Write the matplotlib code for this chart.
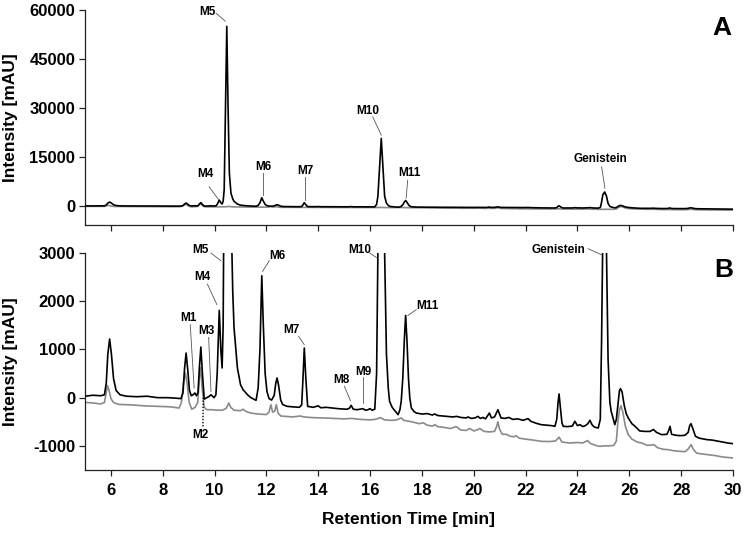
import matplotlib
matplotlib.use("Agg")
import matplotlib.pyplot as plt

plt.rcParams['font.family'] = ['Liberation Sans', 'DejaVu Sans']
plt.rcParams['font.weight'] = 'bold'
plt.rcParams['axes.unicode_minus'] = False

# ---- data: sample trace (black) ----
black_t = [5.0, 5.3, 5.6, 5.75, 5.82, 5.88, 5.95, 6.02, 6.1, 6.2, 6.35, 6.6, 7.0, 7.4, 7.8, 8.2, 8.5, 8.7,
           8.78, 8.84, 8.9, 8.96, 9.03, 9.1, 9.17, 9.24, 9.3, 9.36, 9.41, 9.47, 9.53, 9.6, 9.7, 9.8, 9.86,
           9.92, 9.98, 10.05, 10.1, 10.18, 10.24, 10.29, 10.33, 10.37, 10.42, 10.47, 10.52, 10.57, 10.63,
           10.7, 10.75, 10.88, 11.0, 11.1, 11.14, 11.27, 11.4, 11.6, 11.68, 11.75, 11.82, 11.88, 11.95,
           12.02, 12.1, 12.2, 12.3, 12.36, 12.41, 12.47, 12.55, 12.63, 12.8, 13.0, 13.27, 13.36, 13.41,
           13.46, 13.52, 13.59, 13.8, 14.0, 14.1, 14.3, 14.56, 14.8, 15.1, 15.2, 15.27, 15.35, 15.5, 15.6,
           15.72, 15.82, 15.92, 15.99, 16.08, 16.18, 16.25, 16.3, 16.35, 16.43, 16.5, 16.56, 16.63, 16.7,
           16.75, 16.85, 16.94, 17.08, 17.15, 17.2, 17.26, 17.32, 17.37, 17.42, 17.48, 17.53, 17.59, 17.7,
           17.78, 18.0, 18.2, 18.4, 18.49, 18.6, 18.8, 19.0, 19.2, 19.33, 19.5, 19.7, 19.78, 19.9, 20.05,
           20.16, 20.25, 20.35, 20.45, 20.6, 20.68, 20.8, 20.93, 21.05, 21.2, 21.35, 21.5, 21.7, 21.9,
           22.09, 22.2, 22.4, 22.6, 22.8, 23.0, 23.13, 23.2, 23.25, 23.29, 23.33, 23.4, 23.45, 23.6, 23.8,
           23.9, 24.0, 24.1, 24.2, 24.3, 24.4, 24.48, 24.56, 24.65, 24.8, 24.88, 24.93, 24.98, 25.05,
           25.12, 25.18, 25.25, 25.3, 25.44, 25.5, 25.56, 25.62, 25.66, 25.72, 25.8, 25.88, 25.96, 26.1,
           26.22, 26.4, 26.6, 26.8, 26.93, 27.05, 27.25, 27.45, 27.52, 27.57, 27.63, 27.8, 27.96, 28.15,
           28.27, 28.33, 28.38, 28.45, 28.55, 28.7, 28.99, 29.2, 29.4, 29.6, 29.8, 30.0]
black_v = [30, 50, 40, 60, 300, 900, 1217, 900, 400, 150, 60, 30, 20, 30, 0, 0, -10, -20,
           100, 600, 925, 600, 150, 40, 60, 97, 40, 100, 600, 1050, 500, -30, 0, 30, 60,
           30, 0, 60, 500, 1810, 1000, 615, 1500, 5000, 30000, 55000, 30000, 10000, 4000,
           2200, 1450, 615, 270, 160, 140, 60, 0, -55, 200, 1000, 2529, 1500, 500,
           130, -20, -50, 50, 300, 408, 250, -50, -145, -180, -190, -200, -150, 400,
           1030, 400, -180, -200, -170, -210, -200, -215, -230, -240, -220, -160, -240, -250, -240,
           -228, -260, -250, -228, -260, -240, 500, 3000, 10000, 20700, 11000, 3000, 900, 200,
           -76, -200, -262, -352, -250, -76, 400, 1200, 1706, 1200, 400, 0, -214, -290,
           -318, -340, -330, -360, -338, -370, -380, -390, -400, -388, -410, -420, -400, -430, -420,
           -388, -430, -410, -440, -318, -420, -400, -250, -420, -430, -410, -450, -440, -470,
           -435, -490, -530, -560, -570, -580, -594, -450, -100, 77, -150, -520, -594, -600, -590,
           -490, -580, -560, -600, -580, -540, -470, -560, -610, -630, -450, 1200, 3500, 4300,
           3000, 800, -100, -283, -560, -450, -150, 150, 187, 120, -150, -330, -422, -540,
           -594, -690, -700, -700, -660, -720, -767, -760, -680, -595, -760, -780, -788, -780,
           -720, -580, -540, -640, -800, -840, -870, -880, -900, -920, -940, -954]

# ---- data: control trace (gray) ----
gray_t = [5.0, 5.3, 5.6, 5.75, 5.82, 5.87, 5.93, 6.0, 6.1, 6.3, 6.8, 7.3, 7.8, 8.3, 8.63, 8.72, 8.8, 8.87,
          8.94, 9.02, 9.12, 9.25, 9.35, 9.41, 9.46, 9.52, 9.6, 9.7, 9.9, 10.1, 10.3, 10.45, 10.55, 10.62,
          10.75, 11.0, 11.1, 11.2, 11.4, 11.7, 12.0, 12.1, 12.17, 12.24, 12.32, 12.38, 12.45, 12.55, 12.8,
          13.0, 13.3, 13.45, 13.8, 14.2, 14.6, 15.0, 15.3, 15.6, 16.0, 16.2, 16.4, 16.55, 16.8, 17.0, 17.2,
          17.3, 17.6, 17.9, 18.05, 18.2, 18.4, 18.5, 18.6, 18.9, 19.1, 19.32, 19.5, 19.7, 19.84, 20.0,
          20.15, 20.23, 20.4, 20.6, 20.8, 20.88, 20.93, 20.99, 21.1, 21.26, 21.4, 21.55, 21.64, 21.75,
          22.0, 22.3, 22.6, 22.9, 23.15, 23.29, 23.4, 23.7, 24.0, 24.2, 24.39, 24.5, 24.7, 24.87, 25.0,
          25.2, 25.4, 25.5, 25.56, 25.62, 25.68, 25.75, 25.85, 25.96, 26.1, 26.3, 26.48, 26.7, 26.95,
          27.1, 27.3, 27.5, 27.7, 27.96, 28.15, 28.28, 28.38, 28.48, 28.6, 28.7, 29.0, 29.3, 29.6, 30.0]
gray_v = [-97, -110, -130, -100, 100, 250, 150, -20, -100, -140, -150, -170, -180, -190, -215, -100, 300, 512,
          300, -100, -240, -200, -100, 400, 620, 200, -200, -250, -250, -260, -260, -220, -110, -200,
          -260, -270, -240, -283, -320, -340, -350, -300, -145, -300, -280, -145, -320, -380, -390,
          -400, -380, -400, -415, -420, -430, -440, -430, -450, -460, -450, -415, -460, -470, -465, -420,
          -470, -500, -540, -520, -570, -590, -560, -600, -620, -640, -600, -670, -680, -640, -690,
          -663, -640, -700, -710, -700, -600, -500, -650, -760, -760, -800, -810, -790, -840,
          -860, -880, -906, -910, -900, -820, -920, -940, -930, -940, -890, -950, -990, -1010, -1000,
          -1000, -990, -900, -500, -250, -166, -300, -600, -767, -860, -920, -940, -990, -975,
          -1040, -1070, -1078, -1100, -1113, -1120, -1060, -975, -1080, -1150, -1160, -1180, -1200, -1230, -1250]

x_ticks = [6, 8, 10, 12, 14, 16, 18, 20, 22, 24, 26, 28, 30]
a_yticks = [0, 15000, 30000, 45000, 60000]
b_yticks = [-1000, 0, 1000, 2000, 3000]

# ---- peak labels: name, text (t, y), leader start (t, y), leader end (t, y) ----
a_labels = [
    ("M5", (9.71, 59400), (10.06, 59000), (10.41, 56600)),
    ("M4", (9.66, 9800), (9.79, 5900), (10.15, 2000)),
    ("M6", (11.89, 12000), (11.87, 10000), (11.87, 3400)),
    ("M7", (13.49, 10800), (13.49, 9000), (13.49, 1800)),
    ("M10", (15.91, 29100), (16.10, 27300), (16.43, 21700)),
    ("M11", (17.52, 10000), (17.45, 7950), (17.39, 2400)),
    ("Genistein", (24.89, 14300), (24.93, 12000), (25.06, 5400)),
]
b_labels = [
    ("M5", (9.47, 3068), (9.86, 3000), (10.24, 2840)),
    ("M4", (9.53, 2502), (9.72, 2357), (10.09, 1928)),
    ("M1", (8.99, 1652), (9.06, 1513), (9.21, 201)),
    ("M3", (9.70, 1389), (9.77, 1250), (9.86, 130)),
    ("M6", (12.43, 2929), (12.11, 2840), (11.85, 2618)),
    ("M7", (12.95, 1410), (13.24, 1271), (13.46, 1099)),
    ("M8", (14.88, 373), (15.01, 234), (15.24, -62)),
    ("M9", (15.74, 533), (15.72, 420), (15.72, -110)),
    ("M10", (15.59, 3068), (15.98, 3000), (16.27, 2896)),
    ("M11", (18.23, 1907), (17.78, 1824), (17.46, 1706)),
    ("Genistein", (23.25, 3068), (24.41, 3089), (24.93, 2964)),
]
b_dotted = ("M2", (9.47, -781), (9.55, -595), (9.56, -6))

fig = plt.figure(figsize=(7.45, 5.35), dpi=100)
axA = fig.add_axes([85 / 745, 1 - 225 / 535, 648 / 745, 215 / 535])
axB = fig.add_axes([85 / 745, 1 - 470 / 535, 648 / 745, 217 / 535])

for ax in (axA, axB):
    ax.plot(gray_t, gray_v, color='#8a8a8a', lw=1.2, zorder=2)
    ax.plot(black_t, black_v, color='black', lw=1.2, zorder=3)
    ax.set_xlim(5, 30)
    ax.set_xticks(x_ticks)
    for s in ('top', 'right'):
        ax.spines[s].set_visible(False)
    for s in ('left', 'bottom'):
        ax.spines[s].set_linewidth(0.9)
        ax.spines[s].set_color('#222222')
    ax.tick_params(axis='both', direction='out', length=4.5, width=0.9, color='#222222',
                   labelsize=12, pad=2.5)
    ax.tick_params(axis='x', pad=5)
    for lab in ax.get_xticklabels() + ax.get_yticklabels():
        lab.set_fontweight('bold')
    ax.set_ylabel("Intensity [mAU]", fontsize=12.5, fontweight='bold')
    ax.yaxis.set_label_coords(-0.104, 0.5)

axA.set_ylim(-5800, 60000)
axA.set_yticks(a_yticks)
axA.tick_params(axis='x', labelbottom=False)
axB.set_ylim(-1500, 3000)
axB.set_yticks(b_yticks)
axB.set_xlabel("Retention Time [min]", fontsize=12.5, fontweight='bold', labelpad=10)

for ax, labels in ((axA, a_labels), (axB, b_labels)):
    for name, txt, p0, p1 in labels:
        ax.text(txt[0], txt[1], name, fontsize=8.5, fontweight='bold', ha='center', va='center',
                zorder=5, clip_on=False)
        ax.plot([p0[0], p1[0]], [p0[1], p1[1]], color='#555555', lw=0.6, zorder=4, clip_on=False)

name, txt, p0, p1 = b_dotted
axB.text(txt[0], txt[1], name, fontsize=8.5, fontweight='bold', ha='center', va='center', zorder=5)
axB.plot([p0[0], p1[0]], [p0[1], p1[1]], color='black', lw=1.0, ls=(0, (1, 1.2)), zorder=4)

axA.text(29.56, 54400, "A", fontsize=19, fontweight='bold', ha='center', va='center')
axB.text(29.63, 2650, "B", fontsize=19, fontweight='bold', ha='center', va='center')

fig.savefig("out.png", dpi=100)
